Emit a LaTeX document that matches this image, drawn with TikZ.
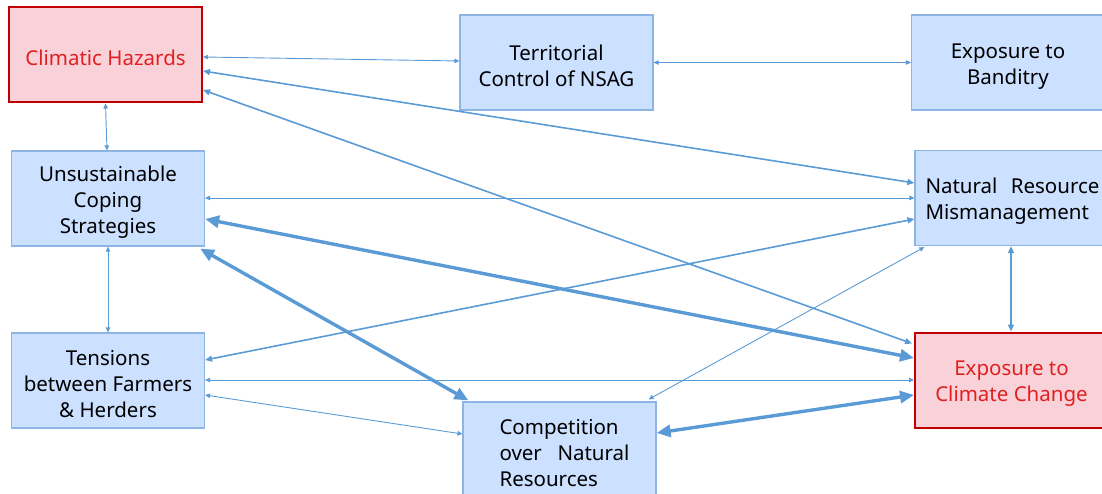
\documentclass[tikz,border=0pt]{standalone}
\usepackage{fontspec}
\setmainfont{Noto Sans}
\usetikzlibrary{arrows.meta}
\definecolor{linkblue}{HTML}{5B9BD5}
\definecolor{boxfill}{HTML}{CCE0FF}
\definecolor{boxline}{HTML}{8EB4E3}
\definecolor{hazfill}{HTML}{F9D2D9}
\definecolor{hazline}{HTML}{C00000}
\definecolor{haztext}{HTML}{E02020}
% tall strut on the first line pushes the text block a little down
\newcommand\firstline{\rule{0pt}{22pt}}
\tikzset{
  factor/.style={rectangle, draw=boxline, line width=1.2pt, fill=boxfill,
    minimum width=193pt, minimum height=95pt, inner sep=0pt, align=center,
    font=\fontsize{20.5}{26}\selectfont},
  hazard/.style={factor, draw=hazline, line width=2pt, fill=hazfill, text=haztext},
  thinlink/.style={draw=linkblue, line width=0.9pt,
    {Triangle[length=5pt,width=4.5pt]}-{Triangle[length=5pt,width=4.5pt]}},
  midlink/.style={draw=linkblue, line width=1.6pt,
    {Triangle[length=7pt,width=6pt]}-{Triangle[length=7pt,width=6pt]}},
  thicklink/.style={draw=linkblue, line width=3.4pt,
    {Triangle[length=14pt,width=12pt]}-{Triangle[length=14pt,width=12pt]}},
}
\begin{document}
\begin{tikzpicture}[x=1pt, y=-1pt]
\useasboundingbox (0,0) rectangle (1102,494);
\clip (0,0) rectangle (1102,494);

% factors
\node[hazard] (ch)  at (105.5,55)   {\firstline Climatic Hazards};
\node[factor] (tc)  at (556.5,62.5) {\firstline Territorial\\Control of NSAG};
\node[factor] (eb)  at (1008,62.5)  {\firstline Exposure to\\Banditry};
\node[factor] (ucs) at (108,198.5)  {\firstline Unsustainable\\Coping\\Strategies};
\node[factor, align=left] (nrm) at (1011.5,198)
  {\firstline\hbox to 176pt{\hskip2pt Natural\hfill Resource}\\\hbox to 176pt{\hskip2pt Mismanagement\hfil}};
\node[factor] (tfh) at (108,380.5)  {\firstline Tensions\\between Farmers\\\& Herders};
\node[hazard] (ecc) at (1011.5,380) {\firstline Exposure to\\Climate Change};
\node[factor, align=left] (cnr) at (559.5,449.5)
  {\firstline\hbox to 140pt{\hskip10pt Competition\hfil}\\
   \hbox to 140pt{\hskip10pt over\hfill Natural}\\
   \hbox to 140pt{\hskip10pt Resources\hfil}};

% links
\draw[thinlink] ([yshift=-2pt]ch.east) -- ([yshift=1.5pt]tc.west);
\draw[thinlink] (tc.east) -- (eb.west);
\draw[midlink]  ([yshift=-16pt]ch.east) -- ([yshift=15pt]nrm.west);
\draw[midlink]  ([yshift=-35pt]ch.east) -- ([xshift=-2pt,yshift=-12pt]ecc.north west);
\draw[thinlink] (ch.south) -- ([xshift=-1pt]ucs.north);
\draw[thinlink] (ucs.east |- 0,198) -- (nrm.west |- 0,198);
\draw[thicklink] ([yshift=-20.5pt]ucs.east) -- ([yshift=22pt]ecc.west);
\draw[thicklink] ([xshift=-5pt,yshift=-2pt]ucs.south east) -- ([xshift=6pt,yshift=1pt]cnr.north west);
\draw[thinlink] (ucs.south) -- (tfh.north);
\draw[midlink]  ([yshift=20.5pt]tfh.east) -- ([yshift=-21pt]nrm.west);
\draw[thinlink] (tfh.east |- 0,380) -- (ecc.west |- 0,380);
\draw[thinlink] ([yshift=-14.5pt]tfh.east) -- ([yshift=15.5pt]cnr.west);
\draw[thinlink] ([xshift=-8pt,yshift=2pt]cnr.north east) -- ([xshift=10pt,yshift=-1pt]nrm.south west);
\draw[thicklink] ([yshift=16.5pt]cnr.east) -- ([yshift=-15pt]ecc.west);
\draw[midlink]  ([xshift=-0.5pt]nrm.south) -- ([xshift=-0.5pt]ecc.north);
\end{tikzpicture}
\end{document}
